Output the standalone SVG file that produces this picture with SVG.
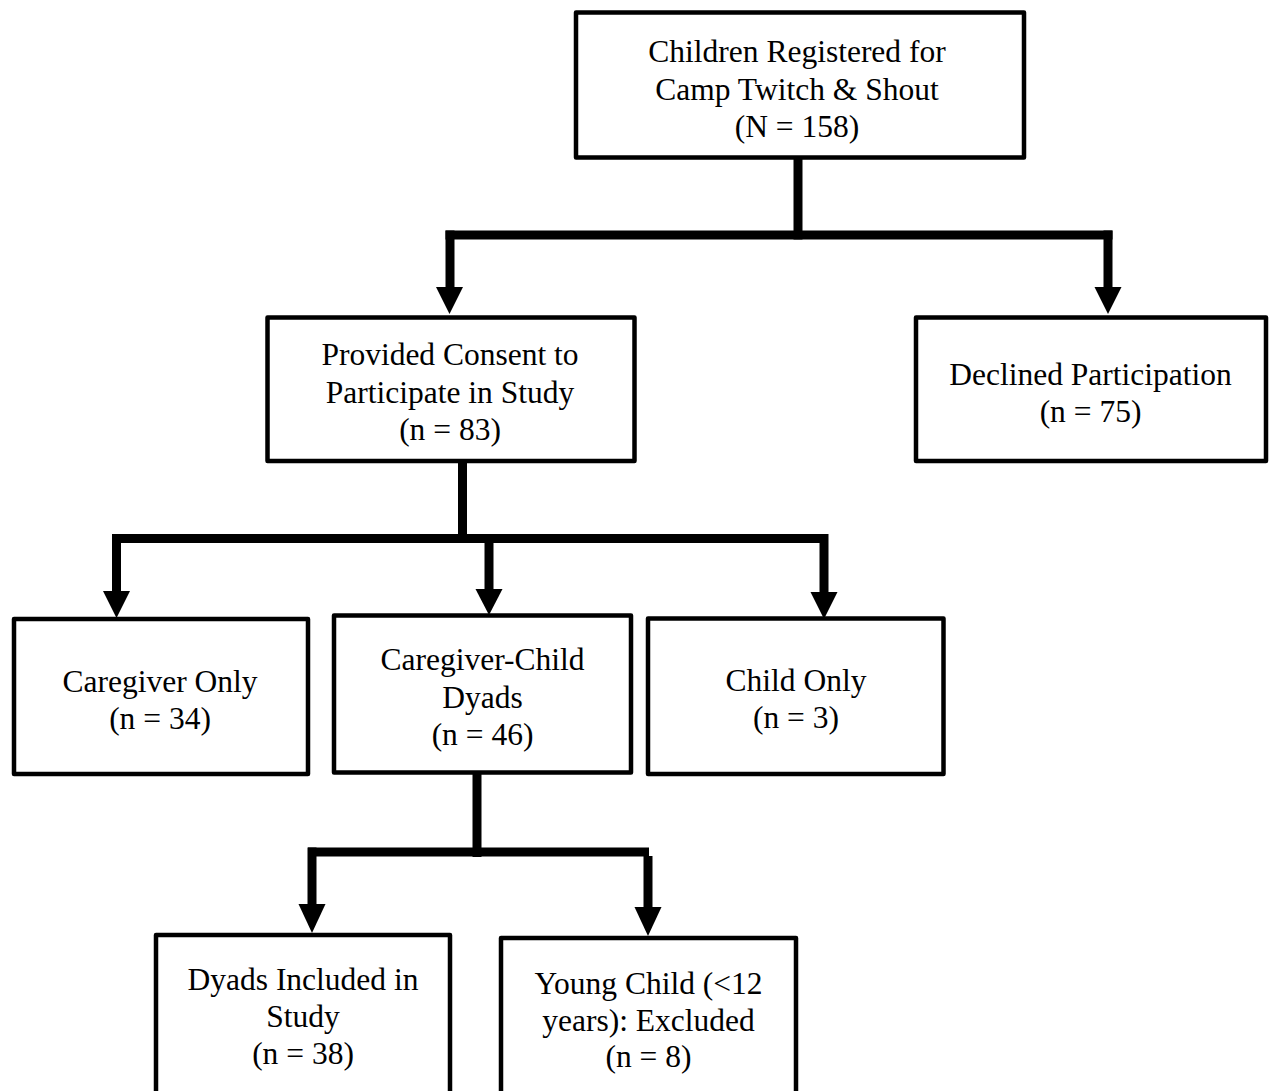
<svg xmlns="http://www.w3.org/2000/svg" width="1269" height="1091" viewBox="0 0 1269 1091">
<style>
  .box { fill: #ffffff; stroke: #000000; stroke-width: 4.5; stroke-linejoin: round; }
  .t { font-family: "Liberation Serif", "Times New Roman", serif; font-size: 31.5px; fill: #000000; text-anchor: middle; }
  .c { stroke: #000000; stroke-width: 9; fill: none; stroke-linecap: butt; }
  .ah { fill: #000000; stroke: none; }
</style>
<rect width="1269" height="1091" fill="#ffffff"/>
<g id="connectors">
  <!-- from top box -->
  <path class="c" d="M798,159 V239.5"/>
  <path class="c" d="M445.5,235 H1112.5"/>
  <path class="c" d="M450,230.5 V289"/>
  <path class="c" d="M1108,230.5 V289"/>
  <polygon class="ah" points="436,287 463,287 449.5,314"/>
  <polygon class="ah" points="1094.5,287 1121.5,287 1108,314"/>
  <!-- from consent box -->
  <path class="c" d="M462.5,462 V543"/>
  <path class="c" d="M112,538.5 H828"/>
  <path class="c" d="M116.5,534 V593"/>
  <path class="c" d="M489,534 V591"/>
  <path class="c" d="M824,534 V594"/>
  <polygon class="ah" points="103,591 130,591 116.5,618"/>
  <polygon class="ah" points="475.5,589 502.5,589 489,615"/>
  <polygon class="ah" points="810.5,592 837.5,592 824,619"/>
  <!-- from dyads box -->
  <path class="c" d="M477,774 V857"/>
  <path class="c" d="M308,852 H649"/>
  <path class="c" d="M312,847.5 V906"/>
  <path class="c" d="M648,856 V909"/>
  <polygon class="ah" points="298.5,904 325.5,904 312,933"/>
  <polygon class="ah" points="634.5,907 661.5,907 648,936"/>
</g>
<g id="node-registered">
  <rect class="box" x="576" y="12.5" width="448" height="145"/>
  <text class="t" x="797" y="62">Children Registered for</text>
  <text class="t" x="797" y="99.5">Camp Twitch &amp; Shout</text>
  <text class="t" x="797" y="137">(N = 158)</text>
</g>
<g id="node-consent">
  <rect class="box" x="267.5" y="317.5" width="367" height="143.5"/>
  <text class="t" x="450" y="365">Provided Consent to</text>
  <text class="t" x="450" y="402.5">Participate in Study</text>
  <text class="t" x="450" y="440">(n = 83)</text>
</g>
<g id="node-declined">
  <rect class="box" x="916" y="317.5" width="350" height="143.5"/>
  <text class="t" x="1090.5" y="385">Declined Participation</text>
  <text class="t" x="1090.5" y="422">(n = 75)</text>
</g>
<g id="node-caregiver-only">
  <rect class="box" x="14" y="619" width="294" height="155"/>
  <text class="t" x="160" y="692">Caregiver Only</text>
  <text class="t" x="160" y="729">(n = 34)</text>
</g>
<g id="node-dyads">
  <rect class="box" x="334" y="615.5" width="297" height="157"/>
  <text class="t" x="482.5" y="670">Caregiver-Child</text>
  <text class="t" x="482.5" y="707.5">Dyads</text>
  <text class="t" x="482.5" y="745">(n = 46)</text>
</g>
<g id="node-child-only">
  <rect class="box" x="648" y="618.5" width="295.5" height="155.5"/>
  <text class="t" x="796" y="691">Child Only</text>
  <text class="t" x="796" y="728">(n = 3)</text>
</g>
<g id="node-included">
  <rect class="box" x="156" y="935" width="294" height="170"/>
  <text class="t" x="303" y="990">Dyads Included in</text>
  <text class="t" x="303" y="1027">Study</text>
  <text class="t" x="303" y="1064">(n = 38)</text>
</g>
<g id="node-excluded">
  <rect class="box" x="501" y="938" width="295" height="170"/>
  <text class="t" x="648.5" y="994">Young Child (&lt;12</text>
  <text class="t" x="648.5" y="1031">years): Excluded</text>
  <text class="t" x="648.5" y="1067">(n = 8)</text>
</g>
</svg>
